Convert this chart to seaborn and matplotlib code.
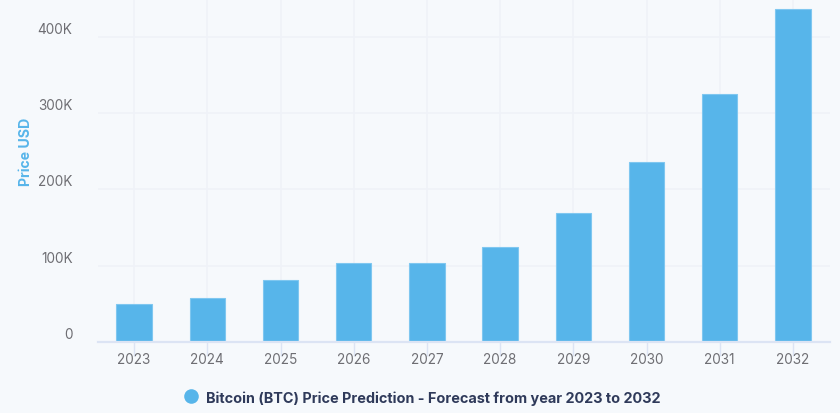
import pandas as pd
import seaborn as sns
import matplotlib.pyplot as plt
from matplotlib.ticker import FuncFormatter
from matplotlib.transforms import ScaledTranslation

years = ['2023', '2024', '2025', '2026', '2027', '2028', '2029', '2030', '2031', '2032']
prices = [49800, 57500, 81000, 103600, 103600, 124000, 169000, 236000, 325000, 437000]
yticks = [0, 100000, 200000, 300000, 400000]
legend_text = 'Bitcoin (BTC) Price Prediction - Forecast from year 2023 to 2032'

bg = '#F6F9FC'
blue = '#57B5EA'

sns.set_theme(style='whitegrid')
plt.rcParams['font.family'] = ['Inter', 'DejaVu Sans']

fig = plt.figure(figsize=(8.4, 4.14), dpi=100, facecolor=bg)
ax = fig.add_axes([97.5 / 840, 71 / 414, 732 / 840, 343 / 414], facecolor=bg)

df = pd.DataFrame({'year': years, 'price': prices})
sns.barplot(data=df, x='year', y='price', color=blue, saturation=1, width=0.485,
            edgecolor='#7FC7F0', linewidth=0.8, ax=ax, zorder=3)

ax.set_xlim(-0.5, 9.5)
ax.set_ylim(0, 449800)
ax.set_yticks(yticks)
ax.yaxis.set_major_formatter(FuncFormatter(lambda v, p: '0' if v == 0 else f'{v / 1000:.0f}K'))
ax.set_xlabel('')
ax.set_ylabel('')

ax.grid(True, color='#EFF2F8', linewidth=1.2)
ax.set_axisbelow(True)
for s in ['top', 'right', 'left']:
    ax.spines[s].set_visible(False)
ax.spines['bottom'].set_color('#DCE4F4')
ax.spines['bottom'].set_linewidth(1.6)
ax.spines['bottom'].set_zorder(4)

ax.tick_params(axis='x', length=10, width=1, color='#DCE4F4', labelsize=9.8,
               labelcolor='#6E6E73', pad=-2.5, bottom=True)
ax.tick_params(axis='y', length=0, labelsize=9.8, labelcolor='#6E6E73', pad=18)
# labels sit a little above their gridlines
up = ScaledTranslation(0, 1 / 100, fig.dpi_scale_trans)
for lab in ax.get_yticklabels():
    lab.set_verticalalignment('bottom')
    lab.set_transform(lab.get_transform() + up)

fig.text(26 / 840, 1 - 151.5 / 414, 'Price USD', rotation=90, color=blue, fontsize=10.2,
         fontweight='bold', ha='center', va='center')

fig.add_artist(plt.Line2D([191 / 840], [1 - 397 / 414], marker='o', markersize=10.5, color=blue,
                          markeredgewidth=0, transform=fig.transFigure))
fig.text(206 / 840, 1 - 399 / 414, legend_text, color='#2F3A5A', fontsize=10.4,
         fontweight='bold', ha='left', va='center')

fig.savefig('out.png', dpi=100, facecolor=bg)
